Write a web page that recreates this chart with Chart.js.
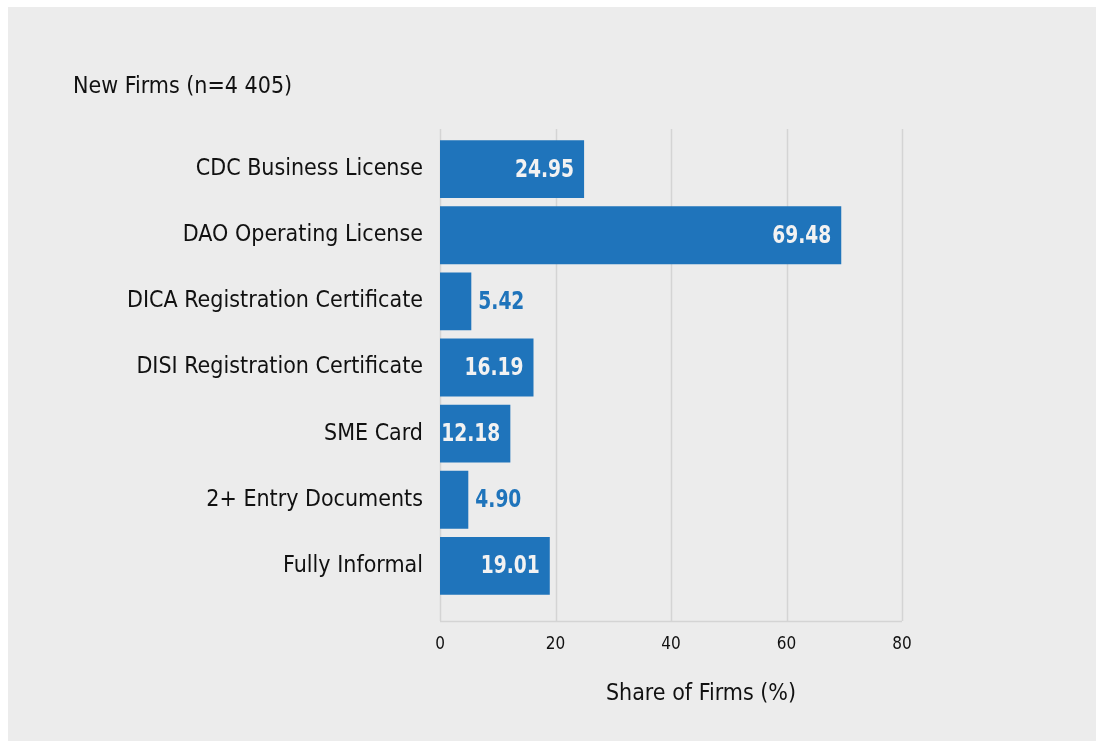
<!DOCTYPE html>
<html>
<head>
<meta charset="utf-8">
<script src="https://cdn.jsdelivr.net/npm/chart.js@4/dist/chart.umd.min.js"></script>
<style>
  html, body { margin: 0; padding: 0; background: #ffffff; }
  #wrap { position: relative; width: 1098px; height: 744px; }
</style>
</head>
<body>
<div id="wrap"><canvas id="c" width="1098" height="744"></canvas></div>
<script>
const categories = [
  "CDC Business License",
  "DAO Operating License",
  "DICA Registration Certificate",
  "DISI Registration Certificate",
  "SME Card",
  "2+ Entry Documents",
  "Fully Informal"
];
const shareValues = [24.95, 69.48, 5.42, 16.19, 12.18, 4.90, 19.01];
const xTicks = [0, 20, 40, 60, 80];
const chartTitle = "New Firms (n=4 405)";
const xAxisTitle = "Share of Firms (%)";

const FONT = "'Liberation Sans Narrow', 'DejaVu Sans Condensed', 'Roboto', sans-serif";
const BLUE = "#1f74bb";
const GRID = "#d4d4d4";

const decor = {
  id: 'decor',
  beforeDraw(chart) {
    const ctx = chart.ctx;
    ctx.save();
    ctx.fillStyle = '#ffffff';
    ctx.fillRect(0, 0, chart.width, chart.height);
    ctx.fillStyle = '#ececec';
    ctx.fillRect(8, 7, 1088, 734);
    ctx.restore();
  },
  beforeDatasetsDraw(chart) {
    const ctx = chart.ctx, xs = chart.scales.x, a = chart.chartArea;
    const top = a.top - 7, bottom = a.bottom + 22;
    ctx.save();
    ctx.strokeStyle = GRID;
    ctx.lineWidth = 1.5;
    xTicks.forEach(v => {
      const x = Math.round(xs.getPixelForValue(v)) + 0.5;
      ctx.beginPath(); ctx.moveTo(x, top); ctx.lineTo(x, bottom); ctx.stroke();
    });
    ctx.beginPath();
    ctx.moveTo(xs.getPixelForValue(xTicks[0]), bottom + 0.5);
    ctx.lineTo(xs.getPixelForValue(xTicks[xTicks.length - 1]), bottom + 0.5);
    ctx.stroke();
    ctx.restore();
  },
  afterDatasetsDraw(chart) {
    const ctx = chart.ctx;
    const meta = chart.getDatasetMeta(0);
    const SX = 0.83;
    meta.data.forEach((bar, i) => {
      const v = shareValues[i];
      const txt = v.toFixed(2);
      ctx.save();
      ctx.font = "bold 25px " + FONT;
      ctx.textBaseline = 'middle';
      if (v >= 10) {
        ctx.fillStyle = '#f2f2f2';
        ctx.textAlign = 'right';
        ctx.translate(bar.x - 10, bar.y + 1);
      } else {
        ctx.fillStyle = BLUE;
        ctx.textAlign = 'left';
        ctx.translate(bar.x + 7, bar.y + 1);
      }
      ctx.scale(SX, 1);
      ctx.fillText(txt, 0, 0);
      ctx.restore();
    });
    // titles
    ctx.save();
    ctx.fillStyle = '#111111';
    ctx.font = "23px " + FONT;
    ctx.textBaseline = 'middle';
    ctx.textAlign = 'left';
    ctx.fillText(chartTitle, 73, 87);
    ctx.textAlign = 'center';
    ctx.fillText(xAxisTitle, 701, 694);
    ctx.restore();
  }
};

new Chart(document.getElementById('c'), {
  type: 'bar',
  data: {
    labels: categories,
    datasets: [{
      data: shareValues,
      backgroundColor: BLUE,
      borderWidth: 0,
      categoryPercentage: 1.0,
      barPercentage: 0.875
    }]
  },
  options: {
    indexAxis: 'y',
    responsive: false,
    animation: false,
    devicePixelRatio: 1,
    layout: { padding: { top: 136, right: 196, bottom: 0, left: 0 } },
    plugins: { legend: { display: false }, tooltip: { enabled: false }, title: { display: false } },
    scales: {
      x: {
        min: 0, max: 80,
        afterFit(s) { s.height = 145; },
        afterBuildTicks(s) { s.ticks = xTicks.map(v => ({ value: v })); },
        grid: { display: false, drawTicks: false },
        border: { display: false },
        ticks: { color: '#111111', font: { family: FONT, size: 17 }, padding: 35, maxRotation: 0 }
      },
      y: {
        afterFit(s) { s.width = 440; },
        grid: { display: false, drawTicks: false },
        border: { display: false },
        ticks: { color: '#111111', font: { family: FONT, size: 23 }, padding: 17, autoSkip: false }
      }
    }
  },
  plugins: [decor]
});
</script>
</body>
</html>
